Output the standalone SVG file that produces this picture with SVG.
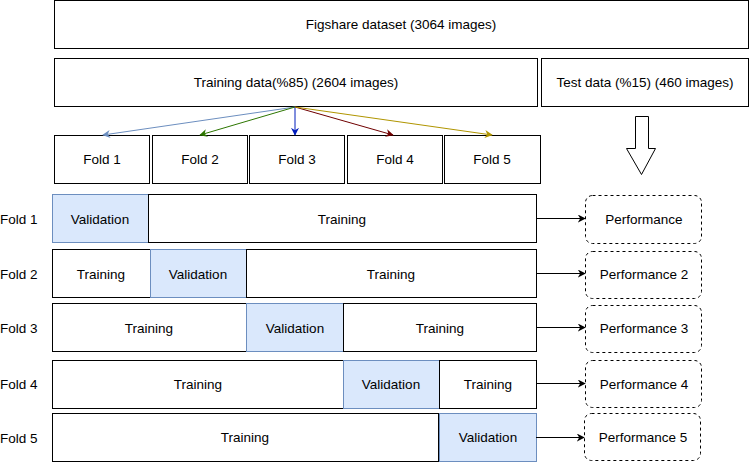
<svg xmlns="http://www.w3.org/2000/svg" width="750" height="462" viewBox="0 0 750 462">
<defs>
<style>
text{font-family:"Liberation Sans",Arial,sans-serif;font-size:13.5px;fill:#000;text-anchor:middle;dominant-baseline:central}
.b{fill:#fff;stroke:#000;stroke-width:1}
.v{fill:#dae8fc;stroke:#6c8ebf;stroke-width:1}
.p{fill:#fff;stroke:#000;stroke-width:1;stroke-dasharray:3 3}
.lbl{text-anchor:start}
.c{fill:none;stroke-width:1}
</style>
<marker id="m1" viewBox="0 0 10 10" refX="9" refY="5" markerWidth="8" markerHeight="8" markerUnits="userSpaceOnUse" orient="auto"><path d="M0,0 L10,5 L0,10 L3,5 Z" fill="#6c8ebf"/></marker>
<marker id="m2" viewBox="0 0 10 10" refX="9" refY="5" markerWidth="8" markerHeight="8" markerUnits="userSpaceOnUse" orient="auto"><path d="M0,0 L10,5 L0,10 L3,5 Z" fill="#2d7600"/></marker>
<marker id="m3" viewBox="0 0 10 10" refX="9" refY="5" markerWidth="8" markerHeight="8" markerUnits="userSpaceOnUse" orient="auto"><path d="M0,0 L10,5 L0,10 L3,5 Z" fill="#001dbc"/></marker>
<marker id="m4" viewBox="0 0 10 10" refX="9" refY="5" markerWidth="8" markerHeight="8" markerUnits="userSpaceOnUse" orient="auto"><path d="M0,0 L10,5 L0,10 L3,5 Z" fill="#6f0000"/></marker>
<marker id="m5" viewBox="0 0 10 10" refX="9" refY="5" markerWidth="8" markerHeight="8" markerUnits="userSpaceOnUse" orient="auto"><path d="M0,0 L10,5 L0,10 L3,5 Z" fill="#b09500"/></marker>
<marker id="mb" viewBox="0 0 10 10" refX="9" refY="5" markerWidth="8" markerHeight="8" markerUnits="userSpaceOnUse" orient="auto"><path d="M0,0 L10,5 L0,10 L3,5 Z" fill="#000"/></marker>
</defs>
<rect width="750" height="462" fill="#fff"/>

<g id="dataset"><rect class="b" x="54.5" y="0.5" width="694" height="48"/><text x="401" y="24">Figshare dataset (3064 images)</text></g>
<g id="training-data"><rect class="b" x="54.5" y="58.5" width="483" height="48"/><text x="296" y="82">Training data(%85) (2604 images)</text></g>
<g id="test-data"><rect class="b" x="541.5" y="58.5" width="207" height="48"/><text x="645" y="82">Test data (%15) (460 images)</text></g>

<g id="fold1"><rect class="b" x="54.5" y="135.5" width="95" height="48"/><text x="102" y="159">Fold 1</text></g>
<g id="fold2"><rect class="b" x="152.5" y="135.5" width="95" height="48"/><text x="200" y="159">Fold 2</text></g>
<g id="fold3"><rect class="b" x="249.5" y="135.5" width="95" height="48"/><text x="297" y="159">Fold 3</text></g>
<g id="fold4"><rect class="b" x="347.5" y="135.5" width="95" height="48"/><text x="395" y="159">Fold 4</text></g>
<g id="fold5"><rect class="b" x="444.5" y="135.5" width="96" height="48"/><text x="492" y="159">Fold 5</text></g>

<g id="big-arrow"><path d="M635.5,116.5 H648.5 V148.5 H655.5 L641.5,174.5 L626.5,148.5 H635.5 Z" fill="#fff" stroke="#000" stroke-width="1"/></g>

<g id="row1">
<text class="lbl" x="0" y="219">Fold 1</text>
<rect class="v" x="52.5" y="194.5" width="96" height="48"/><text x="100" y="219">Validation</text>
<rect class="b" x="148.5" y="194.5" width="388" height="48"/><text x="342" y="219">Training</text>
</g>
<g id="row2">
<text class="lbl" x="0" y="274">Fold 2</text>
<rect class="b" x="52.5" y="249.5" width="98" height="48"/><text x="101" y="274">Training</text>
<rect class="v" x="150.5" y="249.5" width="96" height="48"/><text x="198" y="274">Validation</text>
<rect class="b" x="246.5" y="249.5" width="290" height="48"/><text x="391" y="274">Training</text>
</g>
<g id="row3">
<text class="lbl" x="0" y="328">Fold 3</text>
<rect class="b" x="52.5" y="303.5" width="194" height="48"/><text x="149" y="328">Training</text>
<rect class="v" x="246.5" y="303.5" width="97" height="48"/><text x="295" y="328">Validation</text>
<rect class="b" x="343.5" y="303.5" width="193" height="48"/><text x="440" y="328">Training</text>
</g>
<g id="row4">
<text class="lbl" x="0" y="384">Fold 4</text>
<rect class="b" x="52.5" y="360.5" width="291" height="48"/><text x="198" y="384">Training</text>
<rect class="v" x="343.5" y="360.5" width="96" height="48"/><text x="391" y="384">Validation</text>
<rect class="b" x="439.5" y="360.5" width="97" height="48"/><text x="488" y="384">Training</text>
</g>
<g id="row5">
<text class="lbl" x="0" y="438">Fold 5</text>
<rect class="v" x="439.5" y="413.5" width="97" height="48"/><text x="488" y="437">Validation</text>
<rect class="b" x="52.5" y="413.5" width="386" height="48"/><text x="245" y="437">Training</text>
</g>

<g id="perf1"><rect class="p" x="585.5" y="195.5" width="116" height="48" rx="7"/><text x="644" y="219">Performance</text></g>
<g id="perf2"><rect class="p" x="585.5" y="251.5" width="116" height="47" rx="7"/><text x="644" y="274">Performance 2</text></g>
<g id="perf3"><rect class="p" x="585.5" y="305.5" width="116" height="47" rx="7"/><text x="644" y="328">Performance 3</text></g>
<g id="perf4"><rect class="p" x="585.5" y="360.5" width="116" height="47" rx="7"/><text x="644" y="384">Performance 4</text></g>
<g id="perf5"><rect class="p" x="584.5" y="413.5" width="116" height="47" rx="7"/><text x="643" y="437">Performance 5</text></g>

<g id="connectors">
<path class="c" stroke="#6c8ebf" d="M295,107 L103,135" marker-end="url(#m1)"/>
<path class="c" stroke="#2d7600" d="M295,107 L200,135" marker-end="url(#m2)"/>
<path class="c" stroke="#001dbc" d="M295,107 L295,135" marker-end="url(#m3)"/>
<path class="c" stroke="#6f0000" d="M295,107 L393,135" marker-end="url(#m4)"/>
<path class="c" stroke="#b09500" d="M295,107 L492,135" marker-end="url(#m5)"/>
<path class="c" stroke="#000" d="M536,218.5 H585" marker-end="url(#mb)"/>
<path class="c" stroke="#000" d="M536,273.5 H585" marker-end="url(#mb)"/>
<path class="c" stroke="#000" d="M536,327.5 H585" marker-end="url(#mb)"/>
<path class="c" stroke="#000" d="M536,383.5 H585" marker-end="url(#mb)"/>
<path class="c" stroke="#000" d="M536,437.5 H584" marker-end="url(#mb)"/>
</g>
</svg>
